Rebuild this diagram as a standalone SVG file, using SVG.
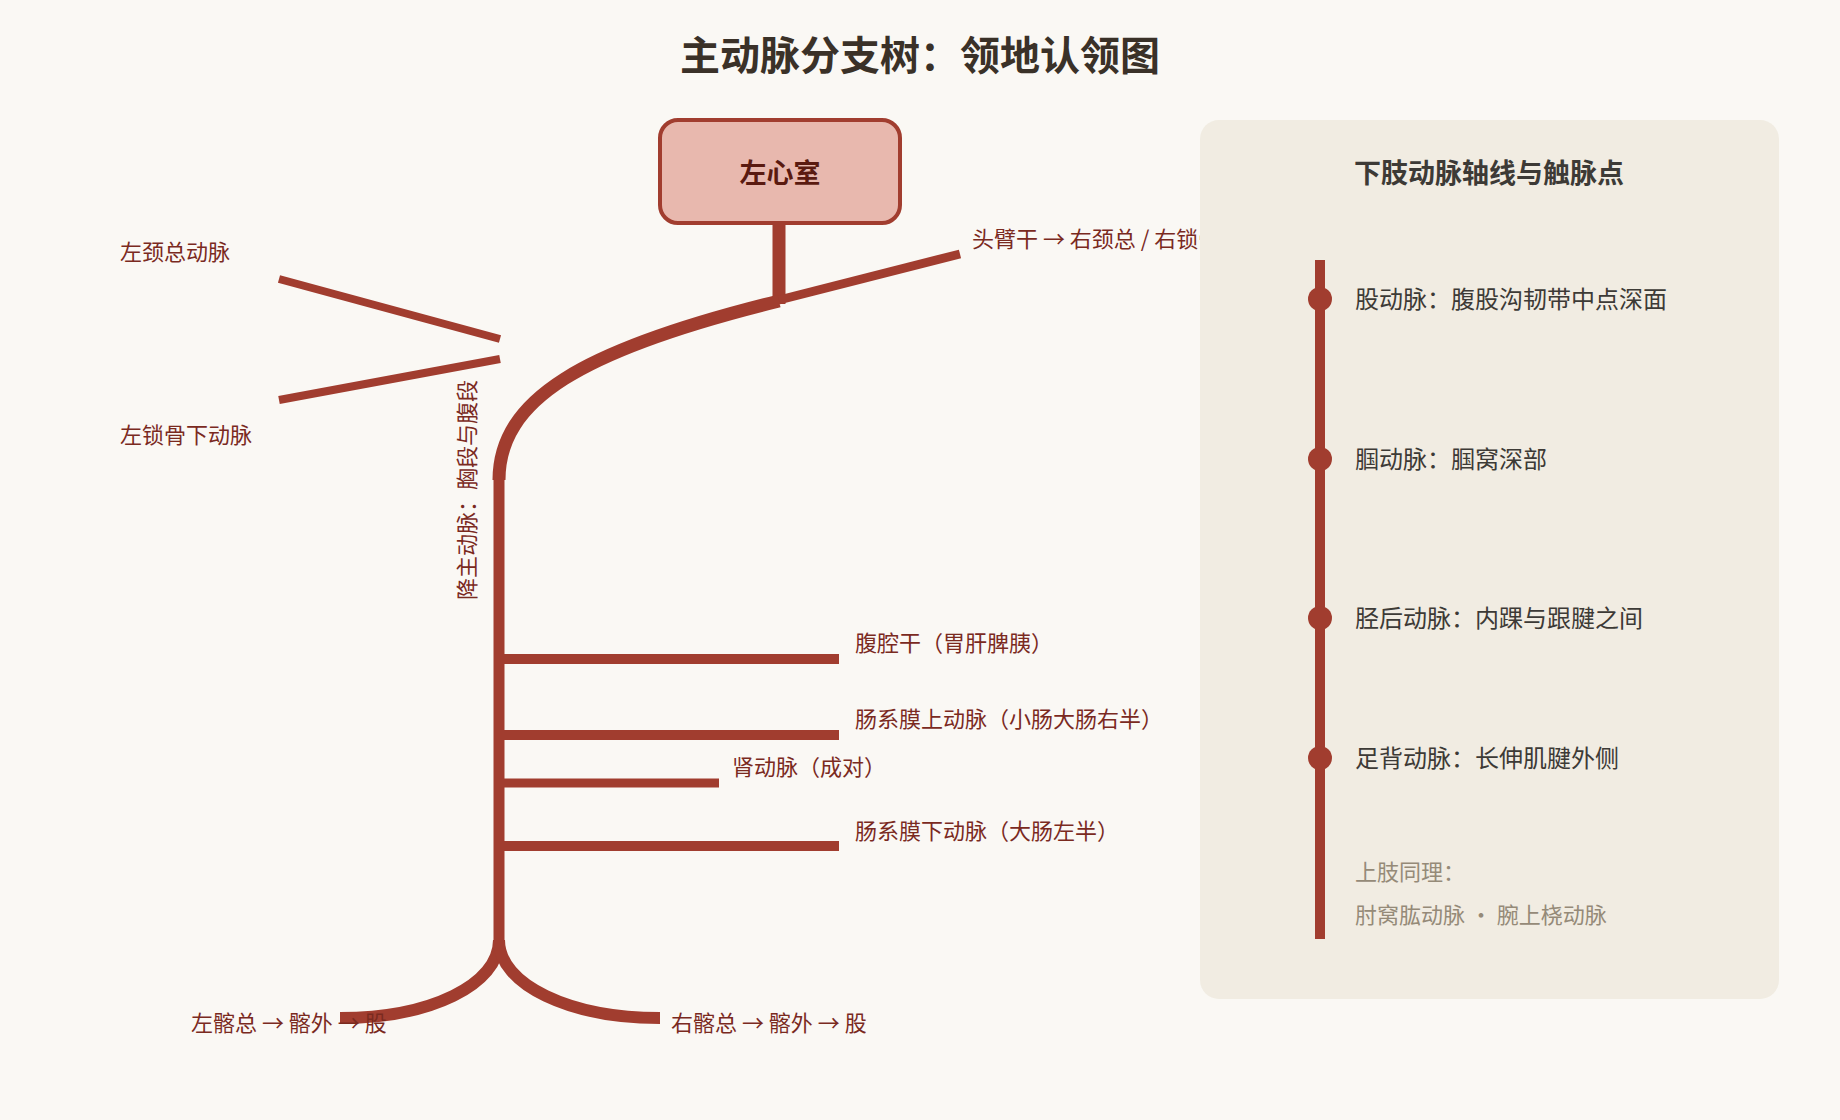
<svg xmlns="http://www.w3.org/2000/svg" width="1840" height="1120" viewBox="0 0 1840 1120">
<style>
.t{font-family:"Noto Sans CJK SC","Noto Sans",sans-serif}
.lbl{font-size:22px;fill:#7a2a1f}
.v{stroke:#a13d2f;fill:none}
.pl{font-size:24px;fill:#3d3a36}
.gr{font-size:22px;fill:#958a78}
</style>
<rect width="1840" height="1120" fill="#faf8f4"/>
<text class="t" x="920" y="70" text-anchor="middle" font-size="40" font-weight="bold" fill="#3a3128">主动脉分支树：领地认领图</text>
<g id="connectors">
<line class="v" x1="779" y1="223" x2="779" y2="304" stroke-width="13"/>
<line class="v" x1="779" y1="300" x2="960" y2="254" stroke-width="9"/>
<path class="v" d="M779,301 C580,350 499,400 499,480" stroke-width="13"/>
<line class="v" x1="499" y1="475" x2="499" y2="948" stroke-width="11"/>
<line class="v" x1="279" y1="279" x2="500" y2="339" stroke-width="8"/>
<line class="v" x1="279" y1="400" x2="500" y2="359" stroke-width="8"/>
<line class="v" x1="499" y1="659" x2="839" y2="659" stroke-width="10"/>
<line class="v" x1="499" y1="735" x2="839" y2="735" stroke-width="10"/>
<line class="v" x1="499" y1="783" x2="719" y2="783" stroke-width="9"/>
<line class="v" x1="499" y1="846" x2="839" y2="846" stroke-width="10"/>
<path class="v" d="M499,940 C499,985 430,1018 340,1018" stroke-width="12"/>
<path class="v" d="M499,940 C499,985 570,1018 660,1018" stroke-width="12"/>
</g>
<g id="heart">
<rect x="660" y="120" width="240" height="103" rx="18" fill="#e8b8ae" stroke="#a13d2f" stroke-width="4"/>
<text class="t" x="780" y="183" text-anchor="middle" font-size="27" font-weight="bold" fill="#5a1a10">左心室</text>
</g>
<g id="labels" class="t lbl">
<text x="972" y="247">头臂干 → 右颈总 / 右锁骨下</text>
<text x="120" y="260">左颈总动脉</text>
<text x="120" y="443">左锁骨下动脉</text>
<text transform="translate(475,490) rotate(-90)" text-anchor="middle">降主动脉：胸段与腹段</text>
<text x="855" y="651">腹腔干（胃肝脾胰）</text>
<text x="855" y="727">肠系膜上动脉（小肠大肠右半）</text>
<text x="732" y="775">肾动脉（成对）</text>
<text x="855" y="839">肠系膜下动脉（大肠左半）</text>
<text x="191" y="1031">左髂总 → 髂外 → 股</text>
<text x="671" y="1031">右髂总 → 髂外 → 股</text>
</g>
<g id="panel">
<rect x="1200" y="120" width="579" height="879" rx="19" fill="#f1ece2"/>
<text class="t" x="1489" y="183" text-anchor="middle" font-size="27" font-weight="bold" fill="#3d3a36">下肢动脉轴线与触脉点</text>
<line x1="1320" y1="260" x2="1320" y2="939" stroke="#a13d2f" stroke-width="10"/>
<g fill="#a13d2f"><circle cx="1320" cy="299" r="12"/><circle cx="1320" cy="459" r="12"/><circle cx="1320" cy="618" r="12"/><circle cx="1320" cy="758" r="12"/></g>
<g class="t pl">
<text x="1355" y="308">股动脉：腹股沟韧带中点深面</text>
<text x="1355" y="468">腘动脉：腘窝深部</text>
<text x="1355" y="627">胫后动脉：内踝与跟腱之间</text>
<text x="1355" y="767">足背动脉：长伸肌腱外侧</text>
</g>
<text class="t gr" x="1355" y="880">上肢同理：</text>
<text class="t gr" x="1355" y="923">肘窝肱动脉 · 腕上桡动脉</text>
</g>
</svg>
